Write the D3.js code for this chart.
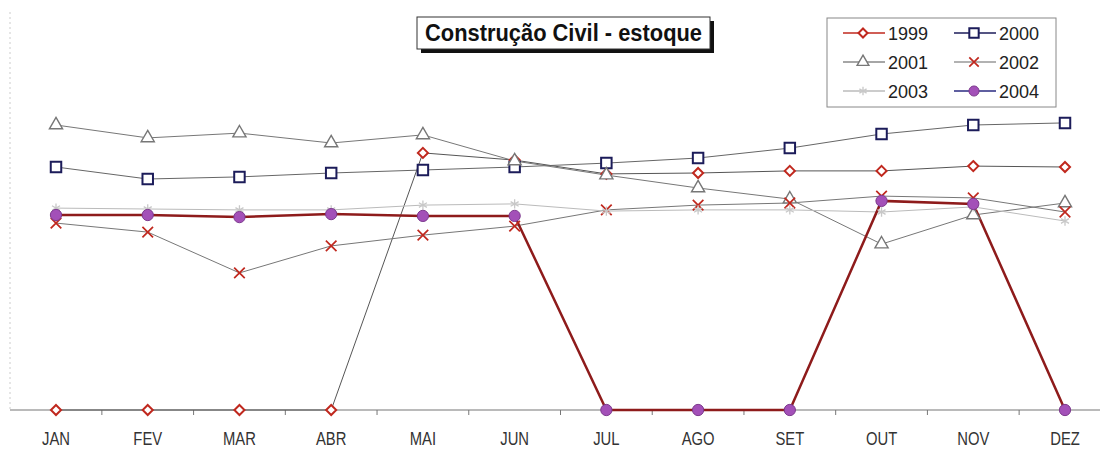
<!DOCTYPE html>
<html>
<head>
<meta charset="utf-8">
<script src="https://cdn.jsdelivr.net/npm/d3@7"></script>
<style>
  body { margin: 0; background: #fff; }
  svg { display: block; }
</style>
</head>
<body>
<svg id="chart"></svg>
<script>
const months = ['JAN', 'FEV', 'MAR', 'ABR', 'MAI', 'JUN', 'JUL', 'AGO', 'SET', 'OUT', 'NOV', 'DEZ'];
const years = ['1999', '2000', '2001', '2002', '2003', '2004'];

// values (no scale shown, arbitrary units 0-100)
const v1999 = [0, 0, 0, 0, 85.7, 83.3, 78.7, 79, 79.7, 79.7, 81.3, 81];
const v2000 = [81, 77, 77.7, 79, 80, 81, 82.3, 84, 87.3, 92, 95, 95.7];
const v2001 = [95, 90.7, 92.3, 89, 91.7, 83, 78.3, 74, 70.3, 55.3, 65, 69];
const v2002 = [62.3, 59.3, 45.7, 54.7, 58.3, 61.3, 66.7, 68.3, 69, 71.3, 70.7, 66];
const v2003 = [67.3, 67, 66.7, 66.7, 68.3, 68.7, 66.3, 66.7, 66.7, 66, 67.7, 63];
const v2004 = [65, 65, 64.3, 65.3, 64.7, 64.7, 0, 0, 0, 69.7, 68.7, 0];

const title = 'Construção Civil - estoque';

const W = 1102, H = 452;
const svg = d3.select('#chart').attr('width', W).attr('height', H);

const x = d3.scalePoint().domain(months).range([56, 1065]);
const y = d3.scaleLinear().domain([0, 100]).range([410, 110]);

const diamond = d3.symbolDiamond2 || d3.symbolDiamond;

// series styles: line as drawn in the plot, legend line as drawn in the legend
const series = [
  { name: years[0], values: v1999, line: '#555', lw: 1, sym: diamond, size: 65, stroke: '#c0281e', fill: '#fff', sw: 2, legLine: '#c0281e' },
  { name: years[1], values: v2000, line: '#666', lw: 1, sym: d3.symbolSquare, size: 110, stroke: '#1c1c5a', fill: '#fff', sw: 2, legLine: '#1c1c5a' },
  { name: years[2], values: v2001, line: '#777', lw: 1, sym: d3.symbolTriangle, size: 75, stroke: '#777', fill: '#fff', sw: 1.4, legLine: '#888' },
  { name: years[3], values: v2002, line: '#777', lw: 1, sym: d3.symbolTimes, size: 75, stroke: '#c0281e', fill: 'none', sw: 1.7, legLine: '#999' },
  { name: years[4], values: v2003, line: '#bbb', lw: 1, sym: d3.symbolAsterisk, size: 60, stroke: '#c8c8c8', fill: 'none', sw: 1.3, legLine: '#bbb' },
  { name: years[5], values: v2004, line: '#8e1b1b', lw: 2.5, sym: d3.symbolCircle, size: 100, stroke: '#7d3a8e', fill: '#a350b8', sw: 1, legLine: '#2a2a80' }
];

// left dotted border
svg.append('line')
  .attr('x1', 10).attr('x2', 10).attr('y1', 12).attr('y2', 410)
  .attr('stroke', '#ccc').attr('stroke-dasharray', '2,3');

// x axis: line with ticks between categories
const step = x.step();
const axis = svg.append('g').attr('id', 'x-axis');
axis.append('line')
  .attr('x1', 10).attr('x2', 1100).attr('y1', y(0)).attr('y2', y(0))
  .attr('stroke', '#777').attr('stroke-width', 1.2);
axis.selectAll('.tick')
  .data(months.slice(0, -1))
  .enter()
  .append('line')
  .attr('x1', d => x(d) + step / 2).attr('x2', d => x(d) + step / 2)
  .attr('y1', y(0)).attr('y2', y(0) + 5)
  .attr('stroke', '#777');
axis.selectAll('.lbl')
  .data(months)
  .enter()
  .append('text')
  .attr('transform', d => `translate(${x(d)},445) scale(0.78,1)`)
  .attr('text-anchor', 'middle')
  .attr('font-family', 'Liberation Sans, Arial, sans-serif')
  .attr('font-size', 19)
  .attr('fill', '#333')
  .text(d => d);

const line = d3.line()
  .x((d, i) => x(months[i]))
  .y(d => y(d));

series.forEach(s => {
  svg.append('path')
    .datum(s.values)
    .attr('fill', 'none')
    .attr('stroke', s.line)
    .attr('stroke-width', s.lw)
    .attr('d', line);
});

series.forEach(s => {
  svg.append('g')
    .selectAll('path')
    .data(s.values)
    .enter()
    .append('path')
    .attr('transform', (d, i) => `translate(${x(months[i])},${y(d)})`)
    .attr('d', d3.symbol().type(s.sym).size(s.size))
    .attr('fill', s.fill)
    .attr('stroke', s.stroke)
    .attr('stroke-width', s.sw);
});

// title box with shadow
const tg = svg.append('g');
tg.append('rect').attr('x', 421).attr('y', 21).attr('width', 293).attr('height', 32).attr('fill', '#111');
tg.append('rect').attr('x', 417).attr('y', 17).attr('width', 293).attr('height', 32)
  .attr('fill', '#fff').attr('stroke', '#333').attr('stroke-width', 1);
tg.append('text')
  .attr('x', 425).attr('y', 41)
  .attr('textLength', 277)
  .attr('lengthAdjust', 'spacingAndGlyphs')
  .attr('font-family', 'Liberation Sans, Arial, sans-serif')
  .attr('font-weight', 'bold')
  .attr('font-size', 23)
  .attr('fill', '#111')
  .text(title);

// legend
const lg = svg.append('g');
lg.append('rect').attr('x', 827).attr('y', 18).attr('width', 229).attr('height', 89)
  .attr('fill', '#fff').attr('stroke', '#888').attr('stroke-width', 1);
series.forEach((s, i) => {
  const cx = 827 + (i % 2) * 111;
  const cy = 33 + Math.floor(i / 2) * 29;
  const g = lg.append('g');
  g.append('line').attr('x1', cx + 16).attr('x2', cx + 58).attr('y1', cy).attr('y2', cy)
    .attr('stroke', s.legLine).attr('stroke-width', 1.5);
  g.append('path')
    .attr('transform', `translate(${cx + 36},${cy})`)
    .attr('d', d3.symbol().type(s.sym).size(s.size * 0.8))
    .attr('fill', s.fill)
    .attr('stroke', s.stroke)
    .attr('stroke-width', s.sw);
  g.append('text')
    .attr('x', cx + 61).attr('y', cy + 6.5)
    .attr('font-family', 'Liberation Sans, Arial, sans-serif')
    .attr('font-size', 18)
    .attr('fill', '#222')
    .text(s.name);
});
</script>
</body>
</html>
